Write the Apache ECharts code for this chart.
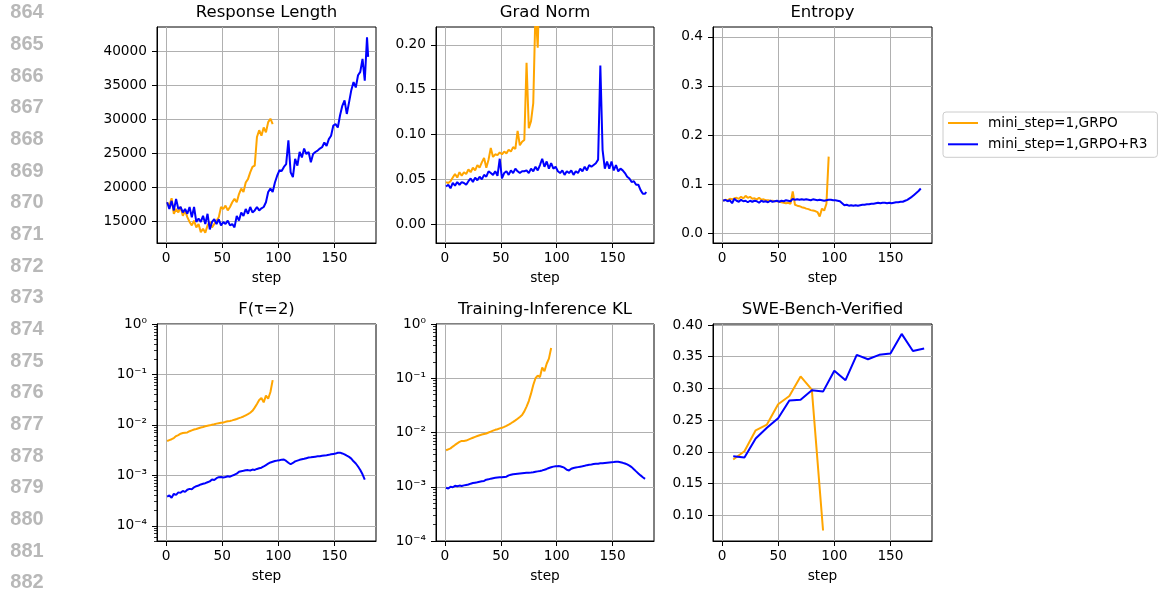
<!DOCTYPE html>
<html lang="en">
<head>
<meta charset="UTF-8">
<title>GRPO vs GRPO+R3 training curves</title>
<script src="https://cdn.jsdelivr.net/npm/echarts@6/dist/echarts.min.js"></script>
<style>
  html, body { margin: 0; padding: 0; background: #fff; }
  #chart { width: 1158px; height: 590px; }
</style>
</head>
<body>
<div id="chart"></div>
<script>
// ---- data ----
var NAME_A = 'mini_step=1,GRPO';
var NAME_B = 'mini_step=1,GRPO+R3';

// x positions: the noisy curves are sampled every 2 steps
var stepsGrpo = oddSteps(95);
var stepsR3 = oddSteps(179).concat([180]);
var sweSteps = [10, 20, 30, 40, 50, 60, 70, 80, 90, 100, 110, 120, 130, 140, 150, 160, 170, 180];

var lengthGrpo = [17800, 17300, 18400, 16100, 16800, 16300, 17100, 15800, 16600, 15600,
  14900, 14400, 15100, 14100, 14600, 13400, 13900, 13300, 14400, 14900,
  14100, 14600, 15100, 15600, 17100, 16800, 17300, 16600, 17100, 17800,
  18300, 17800, 19000, 19800, 19300, 20700, 21200, 22200, 23000, 23200,
  27400, 28400, 27600, 28800, 28100, 29600, 30100, 29300];
var lengthR3 = [17800, 16800, 18000, 16600, 18300, 16800, 17100, 16300, 16800, 16100,
  17100, 15600, 17100, 14900, 15400, 14900, 15800, 14600, 16100, 13800,
  14900, 15300, 14600, 15300, 14400, 14900, 14600, 15100, 14400, 14600,
  14100, 15800, 15100, 16300, 15800, 16800, 16100, 17100, 16300, 16600,
  17100, 16600, 16900, 17100, 17800, 19300, 19800, 19300, 20700, 21700,
  22500, 22400, 23000, 23400, 26900, 22200, 21500, 24200, 23200, 25200,
  24400, 25700, 24900, 25200, 23700, 24900, 25200, 25400, 25700, 25900,
  26600, 26100, 27100, 27600, 29100, 29300, 28800, 30600, 32000, 32800,
  30800, 32500, 34300, 35500, 34700, 36500, 37000, 38900, 35700, 42100,
  39200];

var gradGrpo = [0.047, 0.046, 0.048, 0.052, 0.056, 0.052, 0.058, 0.054, 0.058, 0.056,
  0.061, 0.058, 0.063, 0.060, 0.066, 0.063, 0.069, 0.074, 0.063, 0.072,
  0.085, 0.075, 0.078, 0.077, 0.080, 0.078, 0.081, 0.079, 0.083, 0.081,
  0.086, 0.084, 0.104, 0.088, 0.092, 0.094, 0.180, 0.107, 0.115, 0.135,
  0.240, 0.197, 0.30, 0.36, 0.42, 0.48, 0.55, 0.62];
var gradR3 = [0.042, 0.044, 0.040, 0.046, 0.043, 0.047, 0.044, 0.047, 0.046, 0.044,
  0.048, 0.051, 0.047, 0.052, 0.049, 0.053, 0.050, 0.055, 0.053, 0.059,
  0.057, 0.055, 0.059, 0.054, 0.073, 0.051, 0.057, 0.059, 0.055, 0.060,
  0.057, 0.062, 0.059, 0.057, 0.059, 0.059, 0.060, 0.057, 0.062, 0.059,
  0.064, 0.060, 0.066, 0.073, 0.064, 0.070, 0.062, 0.068, 0.062, 0.064,
  0.059, 0.057, 0.060, 0.055, 0.059, 0.057, 0.060, 0.055, 0.059, 0.057,
  0.062, 0.059, 0.064, 0.060, 0.066, 0.064, 0.066, 0.068, 0.072, 0.177,
  0.083, 0.062, 0.070, 0.062, 0.070, 0.060, 0.066, 0.059, 0.062, 0.060,
  0.057, 0.053, 0.051, 0.047, 0.048, 0.044, 0.044, 0.038, 0.034, 0.034,
  0.036];

var entropyGrpo = [0.066, 0.068, 0.067, 0.070, 0.069, 0.071, 0.072, 0.070, 0.074, 0.071,
  0.076, 0.072, 0.074, 0.070, 0.071, 0.069, 0.072, 0.068, 0.069, 0.067,
  0.067, 0.066, 0.066, 0.065, 0.065, 0.064, 0.063, 0.062, 0.061, 0.062,
  0.060, 0.085, 0.058, 0.056, 0.055, 0.053, 0.052, 0.050, 0.049, 0.047,
  0.046, 0.045, 0.043, 0.034, 0.050, 0.046, 0.060, 0.156];
var entropyR3 = [0.066, 0.068, 0.065, 0.067, 0.061, 0.070, 0.066, 0.064, 0.068, 0.065,
  0.066, 0.063, 0.066, 0.064, 0.066, 0.065, 0.062, 0.066, 0.064, 0.065,
  0.063, 0.066, 0.064, 0.065, 0.066, 0.064, 0.066, 0.065, 0.067, 0.066,
  0.065, 0.070, 0.068, 0.069, 0.068, 0.069, 0.068, 0.069, 0.068, 0.067,
  0.069, 0.068, 0.067, 0.068, 0.067, 0.066, 0.067, 0.068, 0.068, 0.067,
  0.067, 0.066, 0.065, 0.061, 0.057, 0.058, 0.056, 0.057, 0.056, 0.057,
  0.056, 0.057, 0.058, 0.058, 0.059, 0.059, 0.060, 0.060, 0.061, 0.062,
  0.061, 0.062, 0.062, 0.061, 0.062, 0.061, 0.062, 0.063, 0.063, 0.064,
  0.064, 0.066, 0.068, 0.071, 0.074, 0.078, 0.082, 0.086, 0.091];

var fGrpo = [0.0048, 0.0050, 0.0052, 0.0055, 0.0060, 0.0063, 0.0067, 0.0069, 0.0070, 0.0071,
  0.0075, 0.0078, 0.0081, 0.0083, 0.0086, 0.0089, 0.0091, 0.0094, 0.0096, 0.0098,
  0.0101, 0.0103, 0.0106, 0.0108, 0.0110, 0.0112, 0.0115, 0.0118, 0.0120, 0.0123,
  0.0127, 0.0131, 0.0136, 0.0141, 0.0147, 0.0155, 0.0163, 0.0174, 0.0190, 0.0220,
  0.0260, 0.0310, 0.0340, 0.0280, 0.0380, 0.0330, 0.0450, 0.0770];
var fR3 = [0.00038, 0.00040, 0.00036, 0.00043, 0.00041, 0.00046, 0.00045, 0.00049, 0.00047, 0.00052,
  0.00054, 0.00053, 0.00058, 0.00061, 0.00063, 0.00066, 0.00068, 0.00070, 0.00073, 0.00076,
  0.00083, 0.00081, 0.00088, 0.00092, 0.00093, 0.00091, 0.00093, 0.00096, 0.00094, 0.00099,
  0.00103, 0.00108, 0.00118, 0.00121, 0.00123, 0.00126, 0.00127, 0.00125, 0.00130, 0.00128,
  0.00134, 0.00138, 0.00142, 0.00150, 0.00160, 0.00170, 0.00180, 0.00186, 0.00192, 0.00196,
  0.00199, 0.00205, 0.00206, 0.00193, 0.00178, 0.00166, 0.00176, 0.00189, 0.00196, 0.00203,
  0.00208, 0.00213, 0.00219, 0.00225, 0.00228, 0.00232, 0.00235, 0.00238, 0.00240, 0.00244,
  0.00247, 0.00250, 0.00255, 0.00262, 0.00266, 0.00270, 0.00280, 0.00282, 0.00272, 0.00260,
  0.00245, 0.00232, 0.00215, 0.00190, 0.00172, 0.00150, 0.00128, 0.00105, 0.00082];

var klGrpo = [0.0047, 0.0049, 0.0051, 0.0055, 0.0059, 0.0063, 0.0067, 0.0070, 0.0070, 0.0071,
  0.0074, 0.0077, 0.0080, 0.0083, 0.0086, 0.0089, 0.0092, 0.0094, 0.0096, 0.0100,
  0.0104, 0.0108, 0.0112, 0.0115, 0.0119, 0.0122, 0.0127, 0.0133, 0.0140, 0.0148,
  0.0157, 0.0167, 0.0179, 0.0193, 0.0210, 0.0245, 0.0300, 0.0380, 0.0520, 0.0750,
  0.100, 0.112, 0.105, 0.158, 0.135, 0.185, 0.230, 0.360];
var klR3 = [0.00096, 0.00093, 0.00100, 0.00098, 0.00104, 0.00102, 0.00105, 0.00103, 0.00106, 0.00108,
  0.00110, 0.00114, 0.00117, 0.00119, 0.00121, 0.00124, 0.00126, 0.00128, 0.00135, 0.00137,
  0.00141, 0.00144, 0.00146, 0.00148, 0.00150, 0.00149, 0.00151, 0.00153, 0.00162, 0.00166,
  0.00170, 0.00172, 0.00174, 0.00176, 0.00178, 0.00180, 0.00181, 0.00182, 0.00183, 0.00185,
  0.00189, 0.00192, 0.00195, 0.00200, 0.00206, 0.00213, 0.00222, 0.00229, 0.00235, 0.00238,
  0.00240, 0.00239, 0.00232, 0.00222, 0.00205, 0.00200, 0.00215, 0.00222, 0.00226, 0.00230,
  0.00234, 0.00238, 0.00243, 0.00250, 0.00255, 0.00258, 0.00262, 0.00265, 0.00266, 0.00270,
  0.00272, 0.00275, 0.00278, 0.00281, 0.00284, 0.00286, 0.00290, 0.00288, 0.00282, 0.00276,
  0.00268, 0.00258, 0.00245, 0.00230, 0.00210, 0.00192, 0.00176, 0.00162, 0.00150, 0.00140];

var sweGrpo = [0.188, 0.201, 0.234, 0.243, 0.275, 0.288, 0.319, 0.298, 0.076];
var sweR3 = [0.193, 0.191, 0.221, 0.238, 0.253, 0.281, 0.282, 0.297, 0.295,
  0.328, 0.313, 0.353, 0.346, 0.353, 0.355, 0.386, 0.359, 0.363];

// tick labels
var stepTicks = [0, 50, 100, 150];
var lengthTicks = [15000, 20000, 25000, 30000, 35000, 40000];
var gradTicks = [0, 0.05, 0.10, 0.15, 0.20];
var entropyTicks = [0, 0.1, 0.2, 0.3, 0.4];
var logTicks = [1e-4, 1e-3, 1e-2, 1e-1, 1];
var sweTicks = [0.10, 0.15, 0.20, 0.25, 0.30, 0.35, 0.40];

var titles = ['Response Length', 'Grad Norm', 'Entropy', 'F(\u03c4=2)', 'Training-Inference KL', 'SWE-Bench-Verified'];

// ---- helpers ----
function oddSteps(last) {
  var out = [];
  for (var s = 1; s <= last; s += 2) out.push(s);
  return out;
}
function zip(xs, ys) {
  return ys.map(function (y, i) { return [xs[i], y]; });
}

var FONT = 'DejaVu Sans';
var ORANGE = '#ffa500', BLUE = '#0000ff';
var tickText = { fontFamily: FONT, fontSize: 13.7, color: '#000' };

var grids = [
  { left: 157, top: 27, width: 219, height: 216 },
  { left: 436, top: 27, width: 218, height: 216 },
  { left: 713, top: 27, width: 219, height: 216 },
  { left: 157, top: 324, width: 219, height: 217 },
  { left: 436, top: 324, width: 218, height: 217 },
  { left: 713, top: 324, width: 219, height: 217 }
].map(function (g) {
  g.show = true; g.borderColor = '#000'; g.borderWidth = 1; g.backgroundColor = '#fff';
  return g;
});

function xAxis(grid) {
  return {
    type: 'value', gridIndex: grid, min: -8, max: 187,
    name: 'step', nameLocation: 'middle', nameGap: 28.5, nameTextStyle: tickText,
    axisLine: { show: true, onZero: false, lineStyle: { color: '#000', width: 1 } },
    axisTick: { show: true, length: 5, customValues: stepTicks, lineStyle: { color: '#000', width: 1 } },
    axisLabel: Object.assign({ margin: 8, customValues: stepTicks }, tickText),
    splitLine: { show: true, lineStyle: { color: '#b0b0b0', width: 1 } }
  };
}

function valueY(grid, min, max, ticks, digits) {
  return {
    type: 'value', gridIndex: grid, min: min, max: max,
    axisLine: { show: true, onZero: false, lineStyle: { color: '#000', width: 1 } },
    axisTick: { show: true, length: 5, customValues: ticks, lineStyle: { color: '#000', width: 1 } },
    axisLabel: Object.assign({
      margin: 10, customValues: ticks,
      formatter: function (v) { return digits == null ? String(v) : v.toFixed(digits); }
    }, tickText),
    splitLine: { show: true, lineStyle: { color: '#b0b0b0', width: 1 } }
  };
}

var SUP = { '-': '\u207b', '0': '\u2070', '1': '\u00b9', '2': '\u00b2', '3': '\u00b3', '4': '\u2074' };
function powLabel(v) {
  var e = Math.round(Math.log10(v));
  return '10' + String(e).split('').map(function (c) { return SUP[c]; }).join('');
}

function logY(grid, min, max) {
  return {
    type: 'log', logBase: 10, gridIndex: grid, min: min, max: max,
    axisLine: { show: true, onZero: false, lineStyle: { color: '#000', width: 1 } },
    axisTick: { show: true, length: 5, customValues: logTicks, lineStyle: { color: '#000', width: 1 } },
    axisLabel: Object.assign({ margin: 10, customValues: logTicks, formatter: powLabel }, tickText),
    splitLine: { show: true, lineStyle: { color: '#b0b0b0', width: 1 } }
  };
}

// extra tick-only axis for the 2..9 minor ticks of a log axis
function minorLogY(grid, min, max) {
  var vals = [];
  for (var e = -5; e < 0; e++) {
    for (var m = 2; m <= 9; m++) {
      var v = m * Math.pow(10, e);
      if (v >= min && v <= max) vals.push(v);
    }
  }
  return {
    type: 'log', logBase: 10, gridIndex: grid, min: min, max: max, position: 'left',
    axisLine: { show: false, onZero: false }, axisLabel: { show: false }, splitLine: { show: false },
    axisTick: { show: true, length: 3, customValues: vals, lineStyle: { color: '#000', width: 0.8 } }
  };
}

function line(name, color, grid, xs, ys) {
  return {
    name: name, type: 'line', xAxisIndex: grid, yAxisIndex: grid,
    data: zip(xs, ys), showSymbol: false, symbol: 'none',
    lineStyle: { color: color, width: 2 }, itemStyle: { color: color },
    clip: true, animation: false
  };
}

// ---- graphics: page line numbers and subplot titles ----
var graphics = [];
for (var i = 0; i < 19; i++) {
  graphics.push({
    type: 'text', x: 27, y: 12.7 + i * 31.68, silent: true,
    style: { text: String(864 + i), font: 'bold 20px "Liberation Sans"', fill: '#b8b8b8',
      textAlign: 'center', textVerticalAlign: 'middle' }
  });
}
var titleX = [266.5, 545, 822.5];
var titleY = [12.5, 309.5];
titles.forEach(function (t, k) {
  graphics.push({
    type: 'text', x: titleX[k % 3], y: titleY[Math.floor(k / 3)], silent: true,
    style: { text: t, font: '16.5px "DejaVu Sans"', fill: '#000',
      textAlign: 'center', textVerticalAlign: 'middle' }
  });
});

var chart = echarts.init(document.getElementById('chart'));
chart.setOption({
  animation: false,
  backgroundColor: '#fff',
  grid: grids,
  xAxis: [0, 1, 2, 3, 4, 5].map(xAxis),
  yAxis: [
    valueY(0, 11800, 43600, lengthTicks, null),
    valueY(1, -0.021, 0.22, gradTicks, 2),
    valueY(2, -0.02, 0.42, entropyTicks, 1),
    logY(3, 5e-5, 1),
    logY(4, 1e-4, 1),
    valueY(5, 0.0594, 0.4016, sweTicks, 2),
    minorLogY(3, 5e-5, 1),
    minorLogY(4, 1e-4, 1)
  ],
  legend: {
    orient: 'vertical', left: 943, top: 112,
    data: [NAME_A, NAME_B],
    icon: 'rect', itemWidth: 30, itemHeight: 2, itemGap: 5.3,
    padding: [3, 10, 5, 5],
    backgroundColor: '#fff', borderColor: '#cccccc', borderWidth: 1, borderRadius: 3,
    textStyle: { fontFamily: FONT, fontSize: 13.7, lineHeight: 16, color: '#000', padding: [0, 0, 0, 5] }
  },
  graphic: graphics,
  series: [
    line(NAME_A, ORANGE, 0, stepsGrpo, lengthGrpo),
    line(NAME_B, BLUE, 0, stepsR3, lengthR3),
    line(NAME_A, ORANGE, 1, stepsGrpo, gradGrpo),
    line(NAME_B, BLUE, 1, stepsR3, gradR3),
    line(NAME_A, ORANGE, 2, stepsGrpo, entropyGrpo),
    line(NAME_B, BLUE, 2, stepsR3, entropyR3),
    line(NAME_A, ORANGE, 3, stepsGrpo, fGrpo),
    line(NAME_B, BLUE, 3, stepsR3, fR3),
    line(NAME_A, ORANGE, 4, stepsGrpo, klGrpo),
    line(NAME_B, BLUE, 4, stepsR3, klR3),
    line(NAME_A, ORANGE, 5, sweSteps, sweGrpo),
    line(NAME_B, BLUE, 5, sweSteps, sweR3)
  ]
});
</script>
</body>
</html>
